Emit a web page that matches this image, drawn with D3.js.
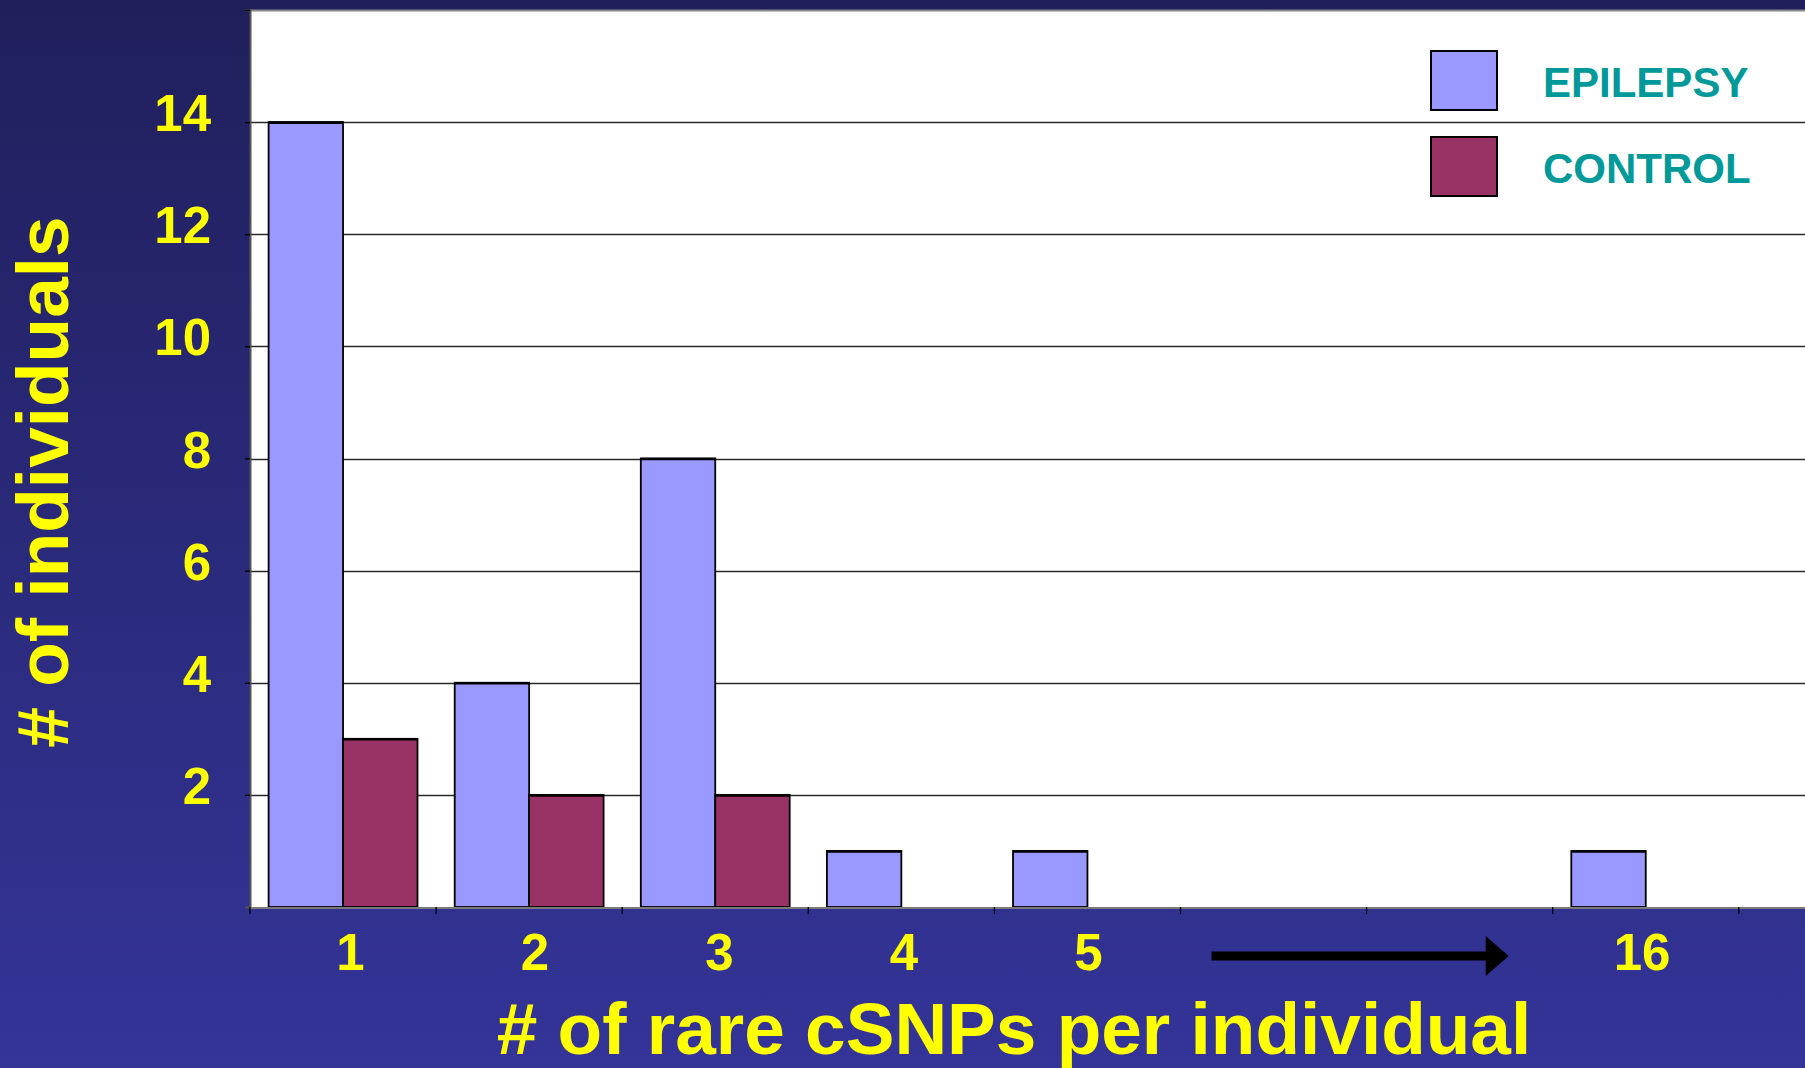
<!DOCTYPE html>
<html>
<head>
<meta charset="utf-8">
<script src="https://cdn.jsdelivr.net/npm/d3@7"></script>
<style>
  html, body { margin: 0; padding: 0; background: #2a2a7c; }
  svg { display: block; }
  text { font-family: "Liberation Sans", Arial, sans-serif; font-weight: bold; }
</style>
</head>
<body>
<svg id="chart" width="1805" height="1068"></svg>
<script>
// Number of rare cSNPs carried by each individual (category slots along x)
const slots = ["1", "2", "3", "4", "5", "gap-a", "gap-b", "16"];
const tickLabels = ["1", "2", "3", "4", "5", "", "", "16"];
const seriesNames = ["EPILEPSY", "CONTROL"];
const epilepsy = [14, 4, 8, 1, 1, 0, 0, 1];
const control = [3, 2, 2, 0, 0, 0, 0, 0];
const yTicks = [2, 4, 6, 8, 10, 12, 14];
const yTitle = "# of individuals";
const xTitle = "# of rare cSNPs per individual";

const W = 1805, H = 1068;
const plot = { left: 250, top: 10, right: 1805, bottom: 907 };
const bandW = 186.1;
const colors = { EPILEPSY: "#9999FF", CONTROL: "#993366" };

const svg = d3.select("#chart");

// Slide background
const defs = svg.append("defs");
const grad = defs.append("linearGradient").attr("id", "bg")
  .attr("x1", 0).attr("y1", 0).attr("x2", 0).attr("y2", 1);
grad.append("stop").attr("offset", 0).attr("stop-color", "#201f5b");
grad.append("stop").attr("offset", 1).attr("stop-color", "#343499");
svg.append("rect").attr("width", W).attr("height", H).attr("fill", "url(#bg)");

// Scales
const x = d3.scaleBand()
  .domain(d3.range(slots.length))
  .range([plot.left, plot.left + bandW * slots.length]);
const x1 = d3.scaleBand()
  .domain(seriesNames)
  .range([x.bandwidth() * 0.1, x.bandwidth() * 0.9]);
const y = d3.scaleLinear().domain([0, 16]).range([plot.bottom, plot.top]);

// Plot area
svg.append("rect")
  .attr("x", plot.left).attr("y", plot.top)
  .attr("width", plot.right - plot.left).attr("height", plot.bottom - plot.top)
  .attr("fill", "#ffffff");
svg.append("line")
  .attr("x1", plot.left).attr("x2", plot.right)
  .attr("y1", plot.top + 0.5).attr("y2", plot.top + 0.5)
  .attr("stroke", "#8a8a8a").attr("stroke-width", 2);

// Horizontal gridlines
svg.append("g").selectAll("line").data(yTicks).join("line")
  .attr("x1", plot.left).attr("x2", plot.right)
  .attr("y1", d => Math.round(y(d)) + 0.5).attr("y2", d => Math.round(y(d)) + 0.5)
  .attr("stroke", "#2a2a2a").attr("stroke-width", 1.3);

// Bars
const rows = slots.map((s, i) => ({ i, EPILEPSY: epilepsy[i], CONTROL: control[i] }));
const groups = svg.append("g").selectAll("g").data(rows).join("g")
  .attr("transform", d => `translate(${x(d.i)},0)`);
const bars = groups.selectAll("g")
  .data(d => seriesNames.map(k => ({ key: k, value: d[k] })).filter(e => e.value > 0))
  .join("g");
bars.append("rect")
  .attr("x", d => x1(d.key))
  .attr("width", x1.bandwidth())
  .attr("y", d => y(d.value))
  .attr("height", d => y(0) - y(d.value))
  .attr("fill", d => colors[d.key])
  .attr("stroke", "#000000").attr("stroke-width", 1.8);
// slightly heavier top edge on each bar
bars.append("line")
  .attr("x1", d => x1(d.key)).attr("x2", d => x1(d.key) + x1.bandwidth())
  .attr("y1", d => y(d.value) + 0.5).attr("y2", d => y(d.value) + 0.5)
  .attr("stroke", "#000000").attr("stroke-width", 2.6);

// Y axis
const yAxis = d3.axisLeft(y).tickValues([...yTicks, 16]).tickSize(5).tickFormat("");
const gy = svg.append("g").attr("transform", `translate(${plot.left},0)`).call(yAxis);
gy.select(".domain").attr("stroke", "#555555").attr("stroke-width", 2);
gy.selectAll(".tick line").attr("stroke", "#000000").attr("stroke-width", 1.3);

svg.append("g").selectAll("text").data(yTicks).join("text")
  .attr("x", 211).attr("y", d => y(d) + 9)
  .attr("text-anchor", "end")
  .attr("font-size", 51)
  .attr("fill", "#FFFF00")
  .text(d => d);

// X axis: tick marks on category boundaries
svg.append("line")
  .attr("x1", plot.left).attr("x2", plot.right)
  .attr("y1", plot.bottom + 1).attr("y2", plot.bottom + 1)
  .attr("stroke", "#7a7a7a").attr("stroke-width", 2.2);
const bounds = d3.range(slots.length + 1).map(i => plot.left + i * x.step());
svg.append("g").selectAll("line").data(bounds).join("line")
  .attr("x1", d => d).attr("x2", d => d)
  .attr("y1", plot.bottom).attr("y2", plot.bottom + 7)
  .attr("stroke", "#000000").attr("stroke-width", 1.3);

// category labels, nudged the way the slide lays them out
svg.append("g").selectAll("text").data(d3.range(slots.length)).join("text")
  .attr("x", i => x(i) + x.bandwidth() / 2 + 7.5 - 1.6 * i)
  .attr("y", 970)
  .attr("text-anchor", "middle")
  .attr("font-size", 51)
  .attr("fill", "#FFFF00")
  .text(i => tickLabels[i]);

// Arrow spanning the skipped counts
const arrowStart = x(5) + 31, arrowEnd = x(6) + x.bandwidth() - 44;
const ay = 956;
svg.append("line")
  .attr("x1", arrowStart).attr("x2", arrowEnd - 20)
  .attr("y1", ay).attr("y2", ay)
  .attr("stroke", "#000000").attr("stroke-width", 9);
svg.append("path")
  .attr("d", `M${arrowEnd - 23},${ay - 20} L${arrowEnd},${ay} L${arrowEnd - 23},${ay + 20} Z`)
  .attr("fill", "#000000");

// Axis titles
svg.append("text")
  .attr("transform", `translate(68,482) rotate(-90)`)
  .attr("text-anchor", "middle")
  .attr("font-size", 73)
  .attr("fill", "#FFFF00")
  .text(yTitle);
svg.append("text")
  .attr("x", 1014).attr("y", 1054)
  .attr("text-anchor", "middle")
  .attr("font-size", 73)
  .attr("fill", "#FFFF00")
  .text(xTitle);

// Legend
const legend = svg.append("g").selectAll("g").data(seriesNames).join("g")
  .attr("transform", (d, i) => `translate(1431,${51 + i * 86})`);
legend.append("rect")
  .attr("width", 66).attr("height", 59)
  .attr("fill", d => colors[d])
  .attr("stroke", "#000000").attr("stroke-width", 2);
legend.append("text")
  .attr("x", 112).attr("y", 46)
  .attr("font-size", 42)
  .attr("fill", "#009999")
  .text(d => d);
</script>
</body>
</html>
